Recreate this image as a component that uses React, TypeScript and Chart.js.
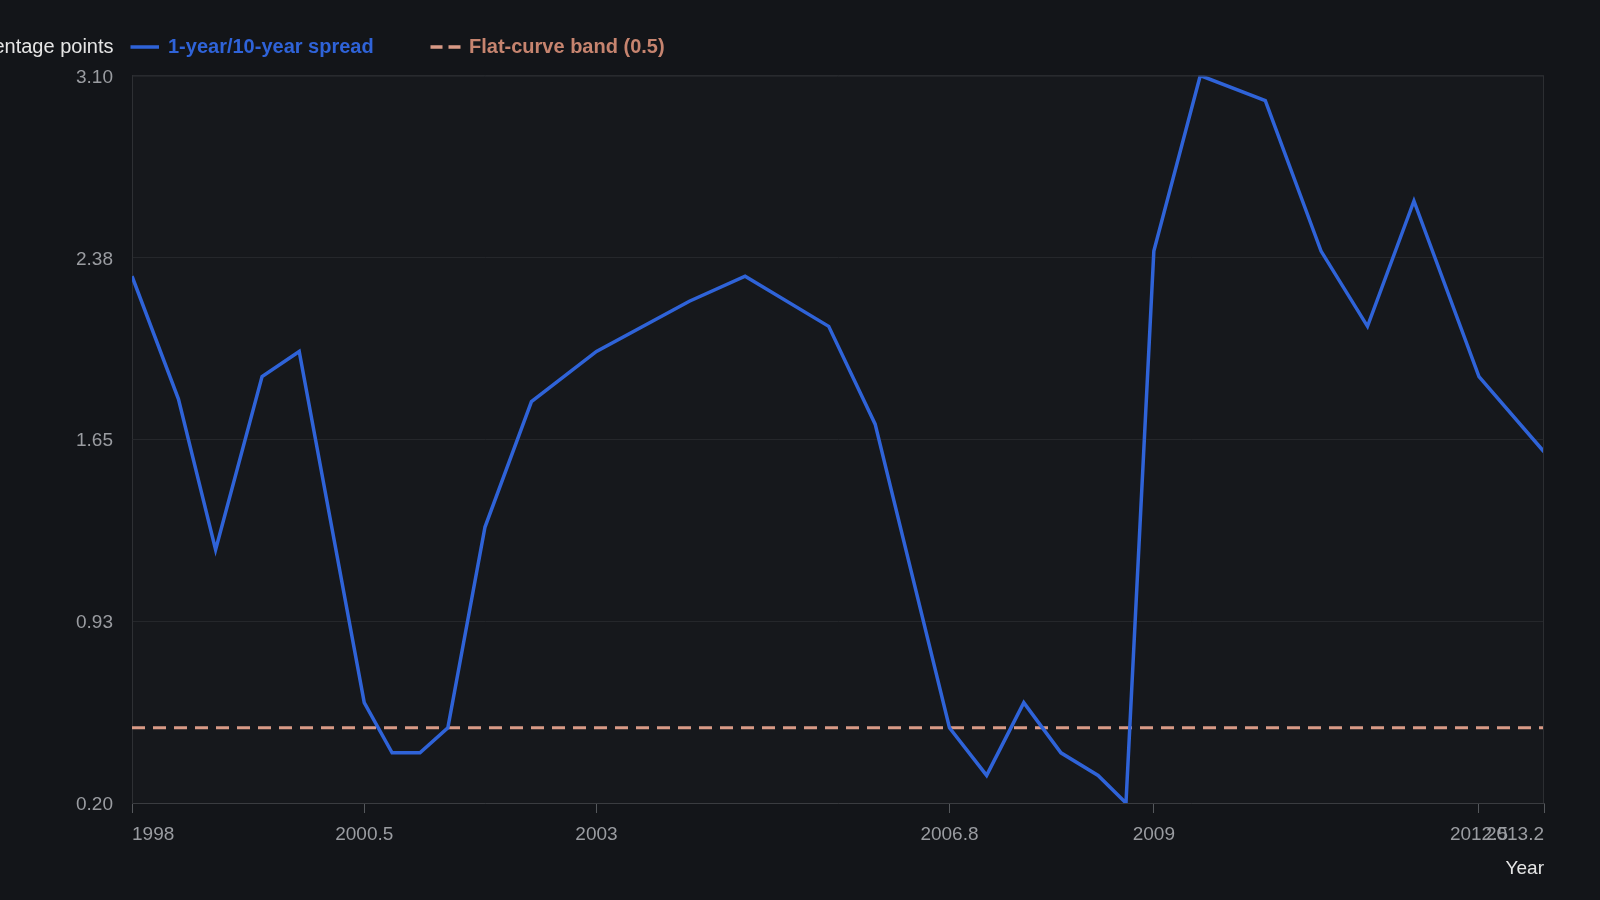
import { useRef, useEffect } from 'react';
import { Chart, registerables } from 'chart.js';

Chart.register(...registerables);

// spread between 1-year and 10-year yields, percentage points
const years = [1998, 1998.5, 1998.9, 1999.4, 1999.8, 2000.5, 2000.8, 2001.1, 2001.4, 2001.8, 2002.3, 2003, 2004, 2004.6, 2005.5, 2006, 2006.8, 2007.2, 2007.6, 2008, 2008.4, 2008.7, 2009, 2009.5, 2010.2, 2010.8, 2011.3, 2011.8, 2012.5, 2013.2];
const spread = [2.30, 1.81, 1.21, 1.90, 2.00, 0.60, 0.40, 0.40, 0.50, 1.30, 1.80, 2.00, 2.20, 2.30, 2.10, 1.71, 0.50, 0.31, 0.60, 0.40, 0.31, 0.20, 2.40, 3.10, 3.00, 2.40, 2.10, 2.60, 1.90, 1.60];

const bandYears = [1998, 2013.2];
const bandValue = [0.5, 0.5];

const xTicks = [1998, 2000.5, 2003, 2006.8, 2009, 2012.5, 2013.2];
const yTicks = [0.2, 0.925, 1.65, 2.375, 3.1];

const FONT = '"Liberation Sans", Arial, sans-serif';
const BLUE = '#2f63d8';
const SALMON = '#d99a86';

const decor = {
    id: 'decor',
    beforeDraw(chart: any) {
        const { ctx, chartArea: a } = chart;
        ctx.save();
        ctx.fillStyle = '#16181c';
        ctx.fillRect(a.left, a.top, a.right - a.left, a.bottom - a.top);
        ctx.restore();
    },
    afterDraw(chart: any) {
        const { ctx, chartArea: a } = chart;
        ctx.save();
        // frame on top / right
        ctx.strokeStyle = '#2c2e32';
        ctx.lineWidth = 1;
        ctx.beginPath();
        ctx.moveTo(a.left, a.top + 0.5);
        ctx.lineTo(a.right - 0.5, a.top + 0.5);
        ctx.lineTo(a.right - 0.5, a.bottom);
        ctx.stroke();

        const y = 47;
        ctx.textBaseline = 'middle';

        // y axis title, sits left of the legend
        ctx.font = '20px ' + FONT;
        ctx.fillStyle = '#e6e6e6';
        ctx.textAlign = 'right';
        ctx.fillText('Percentage points', 113.5, y);

        // legend
        ctx.textAlign = 'left';
        ctx.font = 'bold 20px ' + FONT;
        ctx.lineWidth = 3.5;
        ctx.strokeStyle = BLUE;
        ctx.beginPath();
        ctx.moveTo(130.5, y);
        ctx.lineTo(159, y);
        ctx.stroke();
        ctx.fillStyle = BLUE;
        ctx.fillText('1-year/10-year spread', 168, y);

        ctx.strokeStyle = SALMON;
        ctx.setLineDash([12, 6]);
        ctx.beginPath();
        ctx.moveTo(430.5, y);
        ctx.lineTo(461, y);
        ctx.stroke();
        ctx.setLineDash([]);
        ctx.fillStyle = '#c6846f';
        ctx.fillText('Flat-curve band (0.5)', 469, y);
        ctx.restore();
    }
};

const SpreadChart = () => {
    const canvasRef = useRef(null);
    const chartRef = useRef(null);

    useEffect(() => {
        if (!canvasRef.current) return;
        if (chartRef.current) chartRef.current.destroy();

        chartRef.current = new Chart(canvasRef.current, {
            type: 'line',
            data: {
                datasets: [
                    {
                        label: '1-year/10-year spread',
                        data: years.map((x, i) => ({ x, y: spread[i] })),
                        borderColor: BLUE,
                        borderWidth: 3.5,
                        pointRadius: 0,
                        tension: 0
                    },
                    {
                        label: 'Flat-curve band (0.5)',
                        data: bandYears.map((x, i) => ({ x, y: bandValue[i] })),
                        borderColor: SALMON,
                        borderWidth: 3,
                        borderDash: [13, 8],
                        pointRadius: 0
                    }
                ]
            },
            options: {
                responsive: true,
                maintainAspectRatio: false,
                animation: false,
                layout: { padding: { left: 0, right: 56, top: 75.5, bottom: 0 } },
                plugins: {
                    legend: { display: false },
                    tooltip: { enabled: false }
                },
                scales: {
                    x: {
                        type: 'linear',
                        min: 1998,
                        max: 2013.2,
                        afterFit: (s: any) => { s.height = 97; },
                        afterBuildTicks: (s: any) => { s.ticks = xTicks.map(v => ({ value: v })); },
                        grid: { drawOnChartArea: false, drawTicks: true, tickLength: 10, tickColor: '#55585c', color: '#55585c' },
                        border: { color: '#3a3c40' },
                        ticks: {
                            autoSkip: false,
                            maxRotation: 0,
                            align: 'inner',
                            padding: 10,
                            color: '#9a9ca1',
                            font: { family: FONT, size: 19 },
                            callback: (v: any) => String(v)
                        },
                        title: {
                            display: true,
                            text: 'Year',
                            align: 'end',
                            color: '#e6e6e6',
                            font: { family: FONT, size: 19 },
                            padding: { top: 0, bottom: 20 }
                        }
                    },
                    y: {
                        min: 0.2,
                        max: 3.1,
                        afterFit: (s: any) => { s.width = 132; },
                        afterBuildTicks: (s: any) => { s.ticks = yTicks.map(v => ({ value: v })); },
                        grid: { color: '#25272b', drawTicks: false },
                        border: { color: '#2e3034' },
                        ticks: {
                            padding: 19,
                            labelOffset: 2,
                            color: '#9a9ca1',
                            font: { family: FONT, size: 19 },
                            callback: (v: any) => Number(v).toFixed(2)
                        }
                    }
                }
            },
            plugins: [decor]
        });

        return () => { if (chartRef.current) chartRef.current.destroy(); };
    }, []);

    return (
        <div style={{ position: 'fixed', left: 0, top: 0, width: 1600, height: 900, background: '#131519' }}>
            <canvas ref={canvasRef}></canvas>
        </div>
    );
};

export default function App() {
    return <SpreadChart />;
}
